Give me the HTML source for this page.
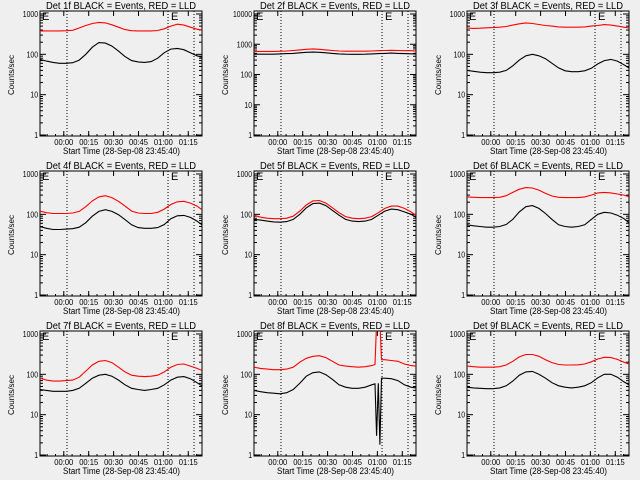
<!DOCTYPE html>
<html><head><meta charset="utf-8"><style>
html,body{margin:0;padding:0;background:#efefef;}
svg{display:block;font-family:"Liberation Sans",sans-serif;}
</style></head><body>
<svg id="chart" width="640" height="480" viewBox="0 0 640 480" xmlns="http://www.w3.org/2000/svg">
<rect width="640" height="480" fill="#efefef"/>
</svg>
<script>
// Shared time samples (minutes after 23:45:40)
const times = [0,4,8,12,16,20,24,28,32,36,40,44,48,52,56,60,64,68,72,76,80,84,88,92,96,99];
const times8 = [0,4,8,12,16,20,24,28,32,36,40,44,48,52,56,60,64,68,72,74,75,76,77,78,80,84,88,92,96,99];
const xTickLabels = ["00:00","00:15","00:30","00:45","01:00","01:15"];
const xTickMinutes = [14.33,29.33,44.33,59.33,74.33,89.33];
const dottedMinutes = [16.5,78.3,94.2];
const panelTitles = ["Det 1f","Det 2f","Det 3f","Det 4f","Det 5f","Det 6f","Det 7f","Det 8f","Det 9f"];
const decades = [3,4,3,3,3,3,3,3,3];
const black1 = [75,68,63,60,60,62,72,100,150,195,190,160,120,88,70,65,63,66,80,110,135,140,130,110,92,85];
const red1 = [380,380,380,380,385,395,450,520,580,620,600,540,470,410,385,380,380,380,390,430,500,560,530,470,420,400];
const black2 = [470,470,470,470,480,490,500,520,540,550,540,520,500,480,470,465,465,470,480,490,500,510,500,490,485,480];
const red2 = [580,580,580,580,590,600,620,650,680,700,680,650,620,600,590,590,590,590,600,610,620,630,620,610,610,600];
const black3 = [40,38,36,35,35,36,40,52,72,92,100,92,78,60,46,39,37,37,39,45,58,70,75,68,55,46];
const red3 = [450,440,445,455,460,470,490,530,570,600,580,550,520,500,480,470,470,470,480,500,520,545,530,500,470,450];
const black4 = [50,45,42,42,43,44,48,62,90,118,130,118,98,74,55,47,45,45,47,56,78,92,94,84,68,55];
const red4 = [120,110,105,105,105,108,118,155,215,270,290,260,210,160,120,108,105,105,112,135,175,205,210,190,160,130];
const black5 = [75,72,68,65,64,66,75,100,145,185,190,165,125,95,75,68,66,68,75,95,120,135,130,115,100,85];
const red5 = [95,85,80,78,78,80,90,120,170,215,220,190,145,110,88,80,78,80,88,110,140,160,160,140,115,95];
const black6 = [55,52,50,48,48,50,56,75,115,155,165,140,105,75,55,50,48,50,55,75,100,112,108,95,78,62];
const red6 = [270,265,260,260,260,265,290,350,420,460,450,400,330,285,265,260,260,260,270,300,340,350,340,320,300,275];
const black7 = [42,40,38,38,38,40,45,60,80,95,100,90,72,55,45,42,40,42,45,55,72,85,88,78,62,52];
const red7 = [80,72,68,68,70,72,85,120,170,210,220,195,150,115,95,90,88,90,95,115,150,175,180,160,140,125];
const black8 = [40,37,35,34,33,35,42,60,90,110,115,98,75,55,48,45,45,48,55,58,3,60,1.8,80,80,78,70,55,48,46];
const red8 = [150,140,135,130,130,135,150,200,250,280,290,260,210,170,160,155,150,155,165,175,2000,2000,2000,230,230,220,210,180,165,160];
const black9 = [48,46,45,44,44,46,52,68,95,115,118,100,80,62,52,48,46,48,52,62,82,100,100,85,65,55];
const red9 = [160,155,150,150,150,155,170,210,270,310,310,280,230,195,175,170,170,172,180,205,240,265,260,235,200,180];
const blacks = [black1,black2,black3,black4,black5,black6,black7,black8,black9];
const reds = [red1,red2,red3,red4,red5,red6,red7,red8,red9];

const NS = "http://www.w3.org/2000/svg";
const svg = document.getElementById("chart");
function mk(tag, attrs, parent){
  const e = document.createElementNS(NS, tag);
  for (const k in attrs) e.setAttribute(k, attrs[k]);
  (parent||svg).appendChild(e);
  return e;
}
for (let p=0;p<9;p++){
  const col=p%3,row=Math.floor(p/3);
  const ox=Math.round(col*213.5), oy=row*160;
  const L=ox+40,R=ox+202,T=oy+11,B=oy+136;
  const yTop=oy+14,yBot=oy+135;
  const nd=decades[p];
  const xs=t=>L+t*1.66;
  const ys=v=>yBot-(Math.log10(Math.max(v,0.5)))/nd*(yBot-yTop);
  const g=mk("g",{});
  
  
  const clipId="c"+p;
  const cp=mk("clipPath",{id:clipId},g);
  mk("rect",{x:L,y:T,width:R-L,height:B-T},cp);
  const box=mk("rect",{x:L,y:T,width:R-L,height:B-T,fill:"none",stroke:"#000","stroke-width":1},g);
  
  
  const title=mk("text",{x:ox+46,y:oy+9,"font-size":"10",textLength:150,lengthAdjust:"spacingAndGlyphs"},g);
  title.textContent=panelTitles[p]+" BLACK = Events, RED = LLD";
  
  
  for(let d=0;d<=nd;d++){
    const y=ys(Math.pow(10,d));
    mk("line",{x1:L,x2:L+6,y1:y,y2:y,stroke:"#000"},g);
    mk("line",{x1:R-6,x2:R,y1:y,y2:y,stroke:"#000"},g);
    const s=String(Math.pow(10,d));
    const lb=mk("text",{x:L-2,y:y+3,"text-anchor":"end","font-size":"8",textLength:s.length*3.8,lengthAdjust:"spacingAndGlyphs"},g);
    lb.textContent=s;
    
    
    if(d<nd) for(let m=2;m<10;m++){
      const ym=ys(m*Math.pow(10,d));
      mk("line",{x1:L,x2:L+3,y1:ym,y2:ym,stroke:"#000"},g);
      mk("line",{x1:R-3,x2:R,y1:ym,y2:ym,stroke:"#000"},g);
    }
  }
  const yt=mk("text",{x:0,y:0,"text-anchor":"middle","font-size":"8",transform:`translate(${ox+14},${oy+75}) rotate(-90)`},g);
  yt.textContent="Counts/sec";
  
  
  for(let i=0;i<xTickLabels.length;i++){
    const x=xs(xTickMinutes[i]);
    mk("line",{x1:x,x2:x,y1:B,y2:B-5,stroke:"#000"},g);
    mk("line",{x1:x,x2:x,y1:T,y2:T+5,stroke:"#000"},g);
    const lb=mk("text",{x:x,y:oy+145,"text-anchor":"middle","font-size":"8",textLength:19,lengthAdjust:"spacingAndGlyphs"},g);
    lb.textContent=xTickLabels[i];
    
    
  }
  for(let m=0;m<100;m+=5){const x=xs(m+4.33);if(x<R-1)mk("line",{x1:x,x2:x,y1:B,y2:B-2,stroke:"#000"},g);}
  const xt=mk("text",{x:ox+63,y:oy+154,"font-size":"9",textLength:117,lengthAdjust:"spacingAndGlyphs"},g);
  xt.textContent="Start Time (28-Sep-08 23:45:40)";
  
  
  for(const dm of dottedMinutes){
    const x=L+(dm*1.635);
    const dl=mk("line",{x1:x,x2:x,y1:T,y2:B,stroke:"#000","stroke-dasharray":"1,2"},g);
    
    
  }
  for(const ex of [L+2,L+131]){
    const e=mk("text",{x:ex,y:T+9,"font-size":"11"},g);
    e.textContent="E";
    
    
  }
  const tt=p===7?times8:times;
  const xd=t=>L+t*1.635;
  const mkLine=(vals,color,name)=>{
    const pts=vals.map((v,i)=>xd(tt[i]).toFixed(1)+","+ys(v).toFixed(1)).join(" ");
    const pl=mk("polyline",{points:pts,fill:"none",stroke:color,"stroke-width":1.1,"clip-path":`url(#${clipId})`},g);
    
    
  };
  mkLine(reds[p],"#ff0000","lld-rate-line");
  mkLine(blacks[p],"#000000","events-rate-line");
}
</script>
</body></html>
